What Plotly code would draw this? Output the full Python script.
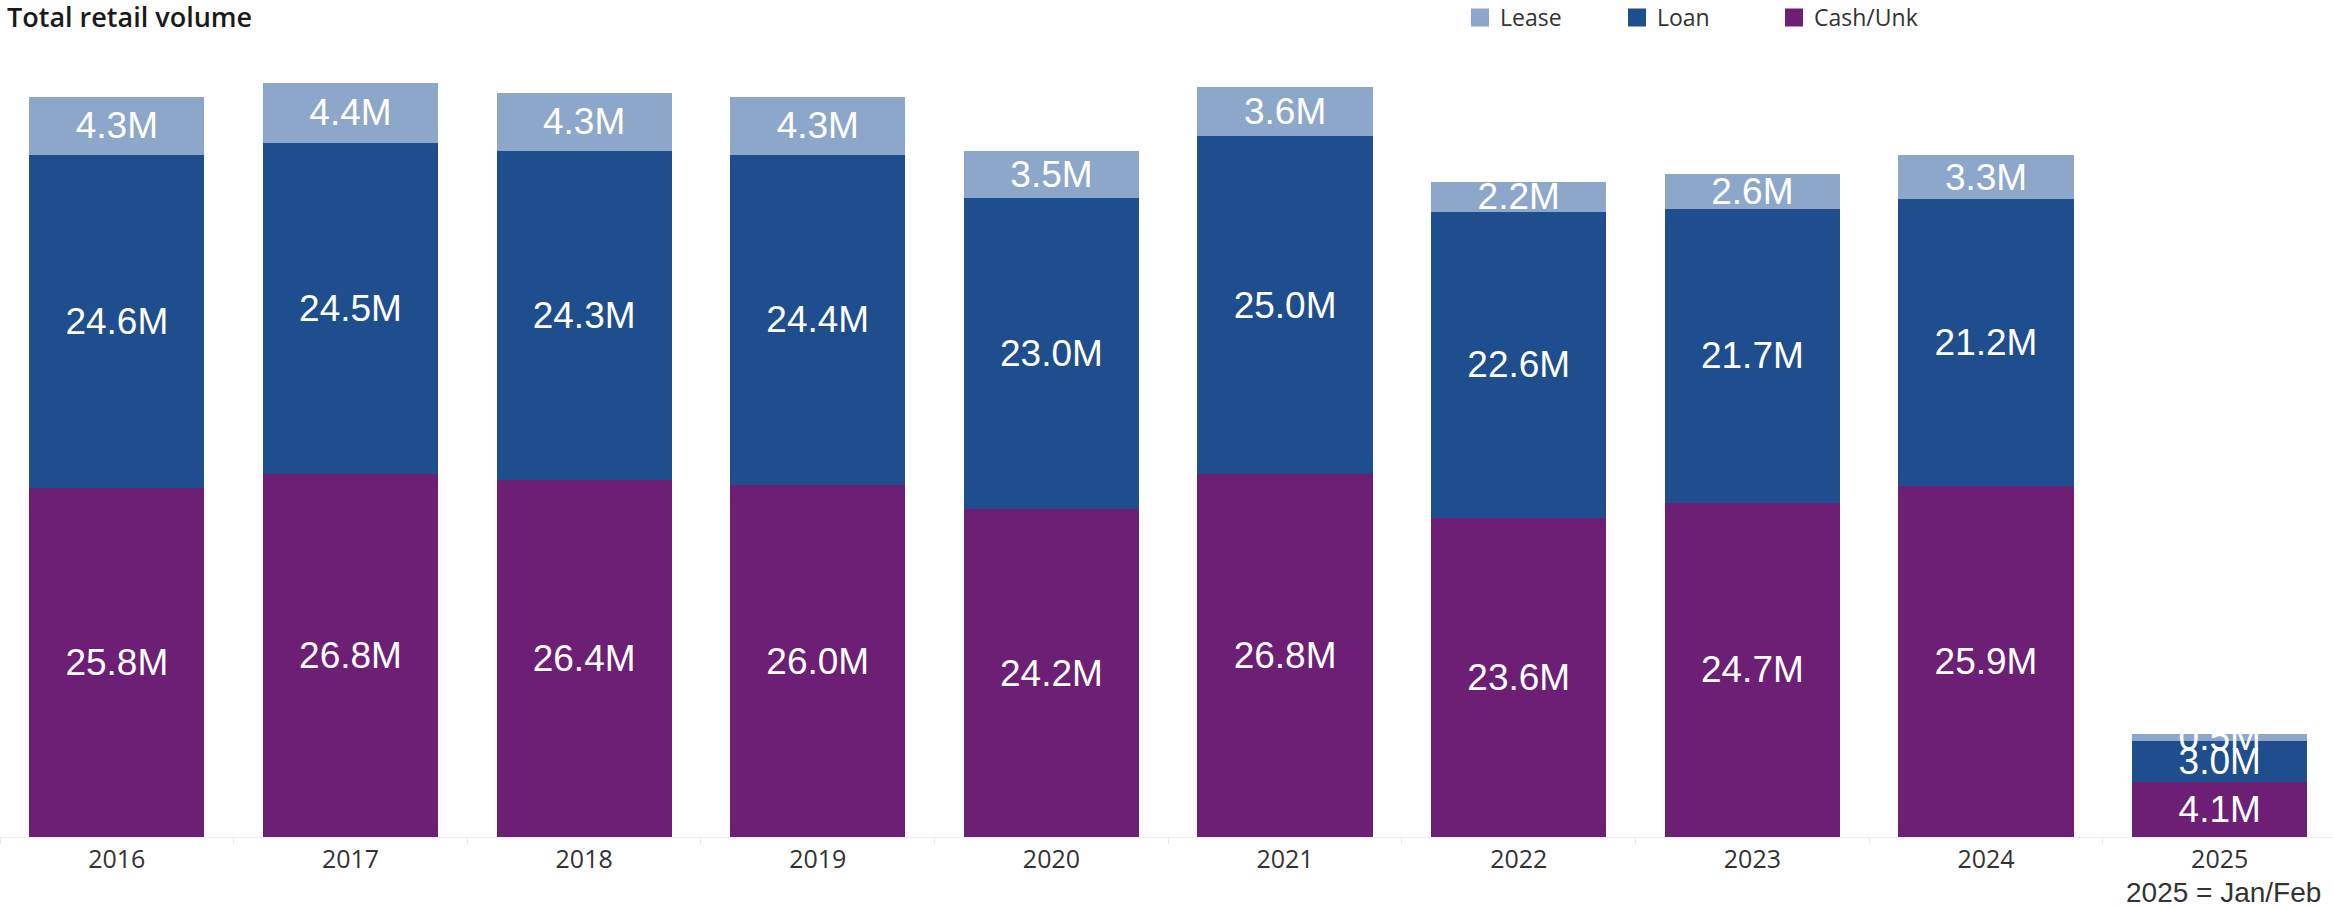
import plotly.graph_objects as go

# Retail volume by financing type, millions of units
years = ["2016", "2017", "2018", "2019", "2020", "2021", "2022", "2023", "2024", "2025"]
cash_unk = [25.8, 26.8, 26.4, 26.0, 24.2, 26.8, 23.6, 24.7, 25.9, 4.1]
loan = [24.6, 24.5, 24.3, 24.4, 23.0, 25.0, 22.6, 21.7, 21.2, 3.0]
lease = [4.3, 4.4, 4.3, 4.3, 3.5, 3.6, 2.2, 2.6, 3.3, 0.5]

series = [
    ("Cash/Unk", cash_unk, "#6C1F75"),
    ("Loan", loan, "#1F4E8E"),
    ("Lease", lease, "#8DA7CB"),
]

fig = go.Figure()

for name, vals, color in series:
    fig.add_trace(go.Bar(
        x=years,
        y=vals,
        name=name,
        marker=dict(color=color, line=dict(width=0)),
        text=[f"{v:.1f}M" for v in vals],
        textposition="inside",
        insidetextanchor="middle",
        constraintext="none",
        textangle=0,
        textfont=dict(family="Liberation Sans, Arial, sans-serif", size=37, color="white"),
        cliponaxis=False,
        showlegend=False,
        hoverinfo="x+y+name",
    ))

# Legend entries with larger square swatches
for name, vals, color in reversed(series):
    fig.add_trace(go.Scatter(
        x=[None], y=[None], mode="markers", name=name,
        marker=dict(symbol="square", size=16, color=color, line=dict(width=2, color=color)),
        showlegend=True,
    ))

fig.update_layout(
    width=2333,
    height=908,
    barmode="stack",
    bargap=0.25,
    plot_bgcolor="white",
    paper_bgcolor="white",
    margin=dict(l=0, r=0, t=43, b=71, autoexpand=False),
    title=dict(
        text="Total retail volume",
        x=7 / 2333, xref="paper", xanchor="left",
        y=1 - 18 / 908, yref="container", yanchor="middle",
        pad=dict(t=0, l=0, b=0),
        font=dict(family="Open Sans, sans-serif", size=27, color="#1a1a1a", weight=600),
    ),
    legend=dict(
        orientation="h",
        x=1460 / 2333, xanchor="left",
        y=1 + 47 / 794, yref="paper", yanchor="top",
        entrywidth=112, entrywidthmode="pixels",
        font=dict(family="Open Sans, sans-serif", size=23, color="#333333"),
        traceorder="normal",
        bgcolor="rgba(0,0,0,0)",
        borderwidth=0,
    ),
    xaxis=dict(
        type="category",
        range=[-0.5, 9.485],
        showgrid=False,
        showline=True,
        linecolor="#ececec",
        linewidth=1,
        ticks="outside",
        tickson="boundaries",
        ticklen=6,
        tickcolor="#e6e6e6",
        tickfont=dict(family="Open Sans, sans-serif", size=25, color="#333333"),
        fixedrange=True,
    ),
    yaxis=dict(
        range=[0, 58.66],
        showgrid=False,
        showticklabels=False,
        zeroline=False,
        showline=True,
        linecolor="#f2f2f2",
        fixedrange=True,
    ),
    annotations=[
        dict(
            text="2025 = Jan/Feb",
            xref="paper", yref="paper",
            x=1, y=0, xanchor="right", yanchor="middle",
            yshift=-55, xshift=-10,
            showarrow=False,
            font=dict(family="Liberation Sans, Arial, sans-serif", size=28, color="#333333"),
        )
    ],
)

fig.write_html("out.html")
